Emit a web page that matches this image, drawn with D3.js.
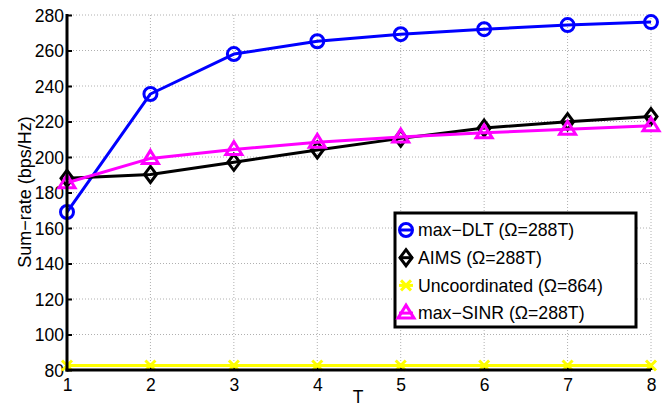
<!DOCTYPE html>
<html><head><meta charset="utf-8">
<script src="https://cdn.jsdelivr.net/npm/d3@7"></script>
<style>body{margin:0;background:#fff}svg{display:block}text{font-family:"Liberation Sans",Arial,sans-serif}</style>
</head><body>
<svg id="c" width="669" height="407"></svg>
<script>
const T = [1,2,3,4,5,6,7,8];
const maxDLT = [169, 235.5, 258, 265.2, 269.2, 272, 274.3, 276];
const AIMS = [188, 190.2, 197, 204, 210.5, 216.3, 219.9, 222.8];
const uncoord = [82.5, 82.5, 82.5, 82.5, 82.5, 82.5, 82.5, 82.5];
const maxSINR = [185.5, 199.2, 204.2, 208.3, 211.2, 213.6, 215.6, 217.6];
const yTicks = [80,100,120,140,160,180,200,220,240,260,280];
const seriesNames = ["max\u2212DLT (\u03A9=288T)","AIMS (\u03A9=288T)","Uncoordinated (\u03A9=864)","max\u2212SINR (\u03A9=288T)"];

const svg = d3.select("#c");
const L=67, R=651, Tp=15, B=370;
const x = d3.scaleLinear().domain([1,8]).range([L,R]);
const y = d3.scaleLinear().domain([80,280]).range([B,Tp]);

// grid
const g = svg.append("g");
g.selectAll(".gx").data(T.slice(1)).enter().append("line")
 .attr("x1",d=>x(d)).attr("x2",d=>x(d)).attr("y1",Tp).attr("y2",B)
 .attr("stroke","#b0b0b0").attr("stroke-width",1).attr("stroke-dasharray","1,2");
g.selectAll(".gy").data(yTicks.slice(1)).enter().append("line")
 .attr("x1",L).attr("x2",R).attr("y1",d=>y(d)).attr("y2",d=>y(d))
 .attr("stroke","#b0b0b0").attr("stroke-width",1).attr("stroke-dasharray","1,2");

// axes
const xAxis = d3.axisBottom(x).tickValues(T).tickSize(-5).tickPadding(9).tickFormat(d3.format("d"));
const yAxis = d3.axisLeft(y).tickValues(yTicks).tickSize(-5).tickPadding(3);
const ax = svg.append("g").attr("transform",`translate(0,${B})`).call(xAxis);
const ay = svg.append("g").attr("transform",`translate(${L},0)`).call(yAxis);
[ax,ay].forEach(a=>{
  a.select(".domain").remove();
  a.selectAll(".tick line").attr("stroke","#000").attr("stroke-width",2);
  a.selectAll(".tick text").attr("font-size",17.5).attr("fill","#000");
});
ax.selectAll(".tick text").attr("dy","0.71em");
ay.selectAll(".tick text").attr("dy","0.36em");

const series = [
 {data:maxDLT, color:"#0000ff", marker:"circle"},
 {data:AIMS, color:"#000000", marker:"diamond"},
 {data:uncoord, color:"#ffff00", marker:"x"},
 {data:maxSINR, color:"#ff00ff", marker:"triangle"}
];
function drawMarker(sel, type, color){
  if(type==="circle"){
    sel.append("circle").attr("r",6.5).attr("fill","none").attr("stroke",color).attr("stroke-width",3);
  } else if(type==="diamond"){
    sel.append("path").attr("d","M0,-8L6,0L0,8L-6,0Z").attr("fill","none").attr("stroke",color).attr("stroke-width",3);
  } else if(type==="triangle"){
    sel.append("path").attr("d","M0,-8L8,5L-8,5Z").attr("fill","none").attr("stroke",color).attr("stroke-width",3);
  } else {
    sel.append("path").attr("d","M-5,-5L5,5M-5,5L5,-5").attr("fill","none").attr("stroke",color).attr("stroke-width",3);
  }
}
const line = d3.line().x((d,i)=>x(T[i])).y(d=>y(d));
series.forEach(s=>{
  svg.append("path").datum(s.data).attr("d",line).attr("fill","none")
    .attr("stroke",s.color).attr("stroke-width",3).attr("stroke-linejoin","round");
  s.data.forEach((v,i)=>{
    const m = svg.append("g").attr("transform",`translate(${x(T[i])},${y(v)})`);
    drawMarker(m, s.marker, s.color);
  });
});

// axis lines (left & bottom)
svg.append("line").attr("x1",L).attr("x2",L).attr("y1",Tp-1).attr("y2",B+1.5).attr("stroke","#000").attr("stroke-width",3);
svg.append("line").attr("x1",L-1.5).attr("x2",R).attr("y1",B).attr("y2",B).attr("stroke","#000").attr("stroke-width",3);

// labels
svg.append("text").attr("x",358).attr("y",403).attr("text-anchor","middle").attr("font-size",17.5).text("T");
svg.append("text").attr("transform","translate(31,192) rotate(-90)").attr("text-anchor","middle").attr("font-size",18).text("Sum\u2212rate (bps/Hz)");

// legend
const lg = svg.append("g");
lg.append("rect").attr("x",395).attr("y",213).attr("width",241).attr("height",114).attr("fill","#fff").attr("stroke","#000").attr("stroke-width",3);
series.forEach((s,i)=>{
  const yy = 230 + i*27.7;
  lg.append("line").attr("x1",399).attr("x2",413).attr("y1",yy).attr("y2",yy).attr("stroke",s.color).attr("stroke-width",3);
  const m = lg.append("g").attr("transform",`translate(406,${yy})`);
  drawMarker(m, s.marker, s.color);
  lg.append("text").attr("x",418).attr("y",yy).attr("dy","0.36em").attr("font-size",17.7).text(seriesNames[i]);
});
</script>
</body></html>
